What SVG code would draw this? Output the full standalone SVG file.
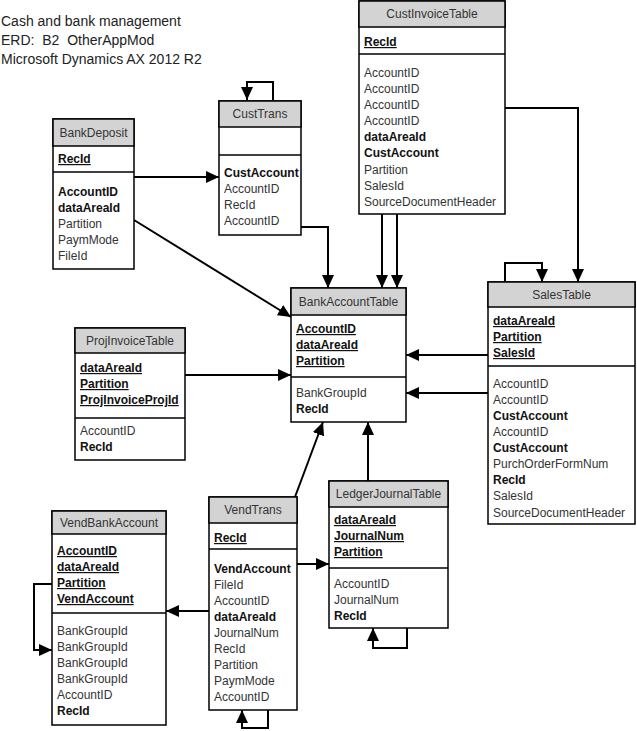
<svg xmlns="http://www.w3.org/2000/svg" width="637" height="731" viewBox="0 0 637 731">
<style>
text{font-family:"Liberation Sans",Arial,sans-serif;font-size:12px;fill:#333}
.t{font-size:14px;fill:#222;white-space:pre}
.h{text-anchor:middle}
.b{font-weight:bold;fill:#111}
.k{font-weight:bold;fill:#111;text-decoration:underline}
.box{fill:#fff;stroke:#000;stroke-width:1.5}
.hd{fill:#d3d3d3;stroke:#000;stroke-width:1.5}
.dv{stroke:#000;stroke-width:1.5}
.c{fill:none;stroke:#000;stroke-width:2;marker-end:url(#a)}
</style>
<defs>
<marker id="a" markerUnits="userSpaceOnUse" markerWidth="13" markerHeight="12" refX="13" refY="6" orient="auto" viewBox="0 0 13 12">
<path d="M0,0 L13,6 L0,12 z" fill="#000"/>
</marker>
</defs>
<g id="title">
<text class="t" x="1" y="26">Cash and bank management</text>
<text class="t" x="1" y="45" xml:space="preserve">ERD:  B2  OtherAppMod</text>
<text class="t" x="1" y="64">Microsoft Dynamics AX 2012 R2</text>
</g>
<g id="connectors">
<path class="c" d="M273,100 V82 H247 V100"/>
<path class="c" d="M134,177 H219"/>
<path class="c" d="M134,220 L291,317"/>
<path class="c" d="M301,227 H328 V288"/>
<path class="c" d="M382,214 V288"/>
<path class="c" d="M397,214 V288"/>
<path class="c" d="M505,108 H578 V282"/>
<path class="c" d="M505,282 V263 H542 V282"/>
<path class="c" d="M488,355 H406"/>
<path class="c" d="M488,393 H406"/>
<path class="c" d="M185,375 H291"/>
<path class="c" d="M295,497 L323,422"/>
<path class="c" d="M368,481 V422"/>
<path class="c" d="M297,564 H329"/>
<path class="c" d="M209,611 H166"/>
<path class="c" d="M52,584 H34 V650 H52"/>
<path class="c" d="M268,710 V728 H242 V710"/>
<path class="c" d="M407,628 V648 H373 V628"/>
</g>
<g id="CustInvoiceTable">
<rect class="box" x="359" y="1" width="146" height="213"/>
<rect class="hd" x="359" y="1" width="146" height="26"/>
<line class="dv" x1="359" y1="54" x2="505" y2="54"/>
<text class="h" x="432" y="18">CustInvoiceTable</text>
<text class="k" x="364" y="46">RecId</text>
<text x="364" y="77">AccountID</text>
<text x="364" y="93">AccountID</text>
<text x="364" y="109">AccountID</text>
<text x="364" y="125">AccountID</text>
<text class="b" x="364" y="141">dataAreaId</text>
<text class="b" x="364" y="157">CustAccount</text>
<text x="364" y="174">Partition</text>
<text x="364" y="190">SalesId</text>
<text x="364" y="206">SourceDocumentHeader</text>
</g>
<g id="CustTrans">
<rect class="box" x="219" y="101" width="82" height="134"/>
<rect class="hd" x="219" y="101" width="82" height="26"/>
<line class="dv" x1="219" y1="155" x2="301" y2="155"/>
<text class="h" x="260" y="118">CustTrans</text>
<text class="b" x="224" y="177">CustAccount</text>
<text x="224" y="193">AccountID</text>
<text x="224" y="209">RecId</text>
<text x="224" y="225">AccountID</text>
</g>
<g id="BankDeposit">
<rect class="box" x="53" y="119" width="81" height="150"/>
<rect class="hd" x="53" y="119" width="81" height="27"/>
<line class="dv" x1="53" y1="172" x2="134" y2="172"/>
<text class="h" x="93.5" y="137">BankDeposit</text>
<text class="k" x="58" y="163">RecId</text>
<text class="b" x="58" y="196">AccountID</text>
<text class="b" x="58" y="212">dataAreaId</text>
<text x="58" y="228">Partition</text>
<text x="58" y="244">PaymMode</text>
<text x="58" y="260">FileId</text>
</g>
<g id="BankAccountTable">
<rect class="box" x="291" y="288" width="115" height="134"/>
<rect class="hd" x="291" y="288" width="115" height="27"/>
<line class="dv" x1="291" y1="377" x2="406" y2="377"/>
<text class="h" x="348.5" y="306">BankAccountTable</text>
<text class="k" x="296" y="333">AccountID</text>
<text class="k" x="296" y="349">dataAreaId</text>
<text class="k" x="296" y="365">Partition</text>
<text x="296" y="397">BankGroupId</text>
<text class="b" x="296" y="413">RecId</text>
</g>
<g id="SalesTable">
<rect class="box" x="488" y="282" width="147" height="242"/>
<rect class="hd" x="488" y="282" width="147" height="25"/>
<line class="dv" x1="488" y1="366" x2="635" y2="366"/>
<text class="h" x="561.5" y="299">SalesTable</text>
<text class="k" x="493" y="325">dataAreaId</text>
<text class="k" x="493" y="341">Partition</text>
<text class="k" x="493" y="357">SalesId</text>
<text x="493" y="388">AccountID</text>
<text x="493" y="404">AccountID</text>
<text class="b" x="493" y="420">CustAccount</text>
<text x="493" y="436">AccountID</text>
<text class="b" x="493" y="452">CustAccount</text>
<text x="493" y="468">PurchOrderFormNum</text>
<text class="b" x="493" y="484">RecId</text>
<text x="493" y="500">SalesId</text>
<text x="493" y="517">SourceDocumentHeader</text>
</g>
<g id="ProjInvoiceTable">
<rect class="box" x="75" y="328" width="110" height="132"/>
<rect class="hd" x="75" y="328" width="110" height="25"/>
<line class="dv" x1="75" y1="418" x2="185" y2="418"/>
<text class="h" x="130" y="345">ProjInvoiceTable</text>
<text class="k" x="80" y="372">dataAreaId</text>
<text class="k" x="80" y="388">Partition</text>
<text class="k" x="80" y="404">ProjInvoiceProjId</text>
<text x="80" y="435">AccountID</text>
<text class="b" x="80" y="451">RecId</text>
</g>
<g id="VendBankAccount">
<rect class="box" x="52" y="511" width="114" height="214"/>
<rect class="hd" x="52" y="511" width="114" height="23"/>
<line class="dv" x1="52" y1="613" x2="166" y2="613"/>
<text class="h" x="109" y="527">VendBankAccount</text>
<text class="k" x="57" y="555">AccountID</text>
<text class="k" x="57" y="571">dataAreaId</text>
<text class="k" x="57" y="587">Partition</text>
<text class="k" x="57" y="603">VendAccount</text>
<text x="57" y="635">BankGroupId</text>
<text x="57" y="651">BankGroupId</text>
<text x="57" y="667">BankGroupId</text>
<text x="57" y="683">BankGroupId</text>
<text x="57" y="699">AccountID</text>
<text class="b" x="57" y="715">RecId</text>
</g>
<g id="VendTrans">
<rect class="box" x="209" y="497" width="88" height="213"/>
<rect class="hd" x="209" y="497" width="88" height="26"/>
<line class="dv" x1="209" y1="549" x2="297" y2="549"/>
<text class="h" x="253" y="514">VendTrans</text>
<text class="k" x="214" y="542">RecId</text>
<text class="b" x="214" y="573">VendAccount</text>
<text x="214" y="589">FileId</text>
<text x="214" y="605">AccountID</text>
<text class="b" x="214" y="621">dataAreaId</text>
<text x="214" y="637">JournalNum</text>
<text x="214" y="653">RecId</text>
<text x="214" y="669">Partition</text>
<text x="214" y="685">PaymMode</text>
<text x="214" y="701">AccountID</text>
</g>
<g id="LedgerJournalTable">
<rect class="box" x="329" y="481" width="119" height="147"/>
<rect class="hd" x="329" y="481" width="119" height="26"/>
<line class="dv" x1="329" y1="568" x2="448" y2="568"/>
<text class="h" x="388.5" y="498">LedgerJournalTable</text>
<text class="k" x="334" y="524">dataAreaId</text>
<text class="k" x="334" y="540">JournalNum</text>
<text class="k" x="334" y="556">Partition</text>
<text x="334" y="588">AccountID</text>
<text x="334" y="604">JournalNum</text>
<text class="b" x="334" y="620">RecId</text>
</g>
</svg>
